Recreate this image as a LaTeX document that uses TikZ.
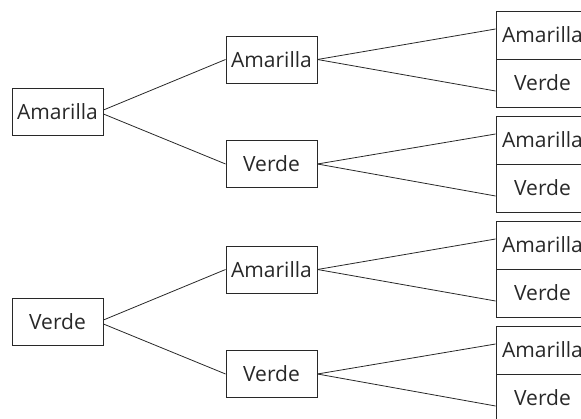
\documentclass[tikz,border=0pt]{standalone}
\usepackage{fontspec}
\setmainfont{Open Sans}
\usetikzlibrary{positioning}
\definecolor{ink}{RGB}{40,40,40}
\tikzset{
  box/.style={draw=ink,line width=0.9pt,minimum width=91pt,minimum height=47pt,
    inner sep=0pt,font=\fontsize{21}{25}\selectfont,text=ink},
  leafbox/.style={box,minimum width=93pt,minimum height=48pt},
  branch/.style={draw=ink,line width=0.8pt},
}
\begin{document}
\begin{tikzpicture}[x=1pt,y=-1pt]
  \useasboundingbox (0,0) rectangle (581,419);
  \foreach \dy/\t [count=\i] in {0/Amarilla,210/Verde}
  {
    \node[box] (l\i) at (57.5,112+\dy) {\t};
    \node[box] (m\i a) at (271.5,59.5+\dy) {Amarilla};
    \node[box] (m\i v) at (271.5,164+\dy) {Verde};
    % right column
    \foreach \m/\dr in {a/0,v/105}
    {
      \node[leafbox] (r\i\m a) at (542.5,35+\dy+\dr) {Amarilla};
      \node[leafbox] (r\i\m v) at (542.5,83+\dy+\dr) {Verde};
      \draw[branch] (m\i\m.east) -- ([yshift=6pt]r\i\m a.west);
      \draw[branch] (m\i\m.east) -- ([yshift=-8pt]r\i\m v.west);
    }
    \draw[branch] ([yshift=2pt]l\i.east) -- (m\i a.west);
    \draw[branch] ([yshift=-2pt]l\i.east) -- (m\i v.west);
  }
\end{tikzpicture}
\end{document}
